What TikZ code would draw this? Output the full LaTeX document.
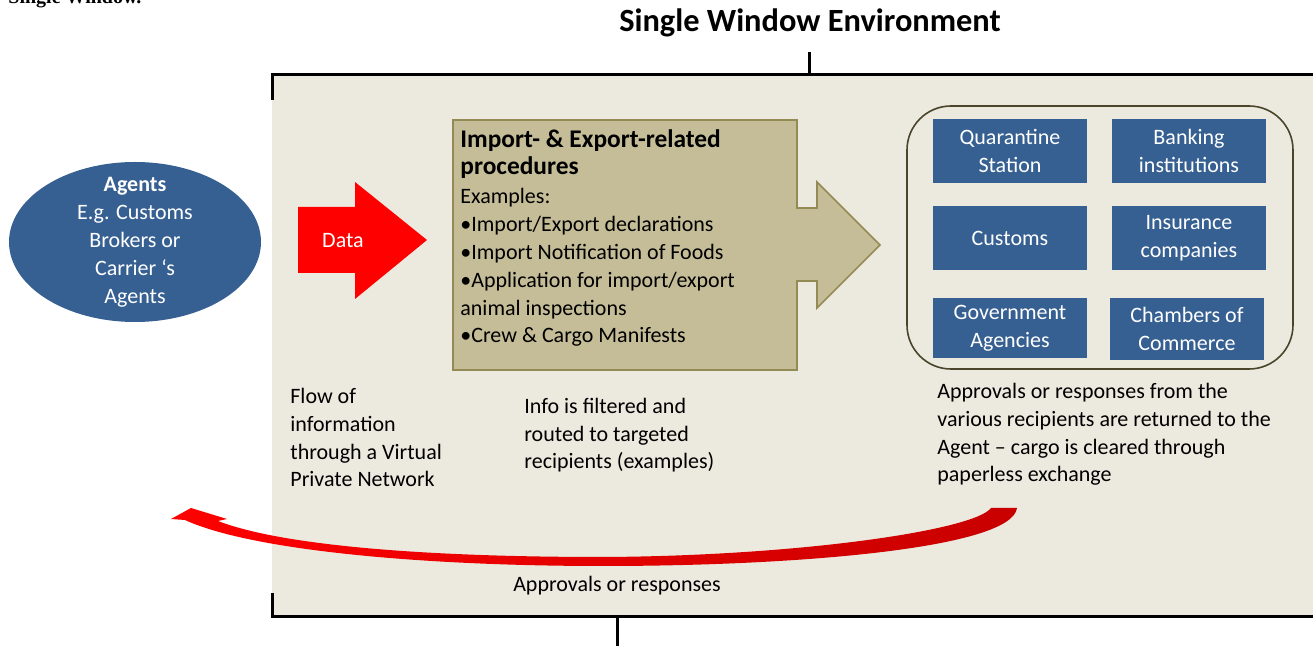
\documentclass[tikz,border=0pt]{standalone}
\usepackage{fontspec}
\setmainfont{Carlito}
\newfontfamily\timesfont{Liberation Serif}
\usepackage{xcolor}
\usetikzlibrary{shapes.geometric,positioning}

\definecolor{swbeige}{RGB}{236,233,223}
\definecolor{swkhaki}{RGB}{196,189,151}
\definecolor{swkhakiline}{RGB}{148,138,84}
\definecolor{swblue}{RGB}{55,96,146}
\definecolor{swframe}{RGB}{74,69,42}
\definecolor{swred}{RGB}{255,0,0}
\definecolor{swdarkred}{RGB}{200,0,0}

\tikzset{
  bluebox/.style={fill=swblue,text=white,align=center,inner sep=0pt,
    minimum width=77pt,minimum height=32pt,font=\fontsize{11}{14}\selectfont},
  notetext/.style={anchor=base west,align=left,inner sep=0pt,
    font=\fontsize{11}{13.9}\selectfont},
  bracket/.style={line width=1.5pt,black}
}

\begin{document}
\begin{tikzpicture}[x=0.5pt,y=-0.5pt]
\useasboundingbox (0,0) rectangle (1313,646);

% Define coordinates for easier positioning
\coordinate (TL) at (272,75);
\coordinate (BR) at (1320,617);

% Draw the page heading and the title
\node[anchor=base west,inner sep=0pt,font=\timesfont\bfseries\fontsize{10}{12}\selectfont] (page) at (8,4) {Single Window.};
\node[inner sep=0pt,font=\bfseries\fontsize{16.2}{19}\selectfont] (title) at (810,23) {Single Window Environment};

% Draw the environment background and the brackets
\fill[swbeige] (TL) rectangle (BR);
\draw[bracket] (272,100) -- (TL) -- (1320,75);
\draw[bracket] (809,52) -- (809,75);
\draw[bracket] (272,593) -- (272,617) -- (BR);
\draw[bracket] (617,617) -- (617,646);

% Draw the agents
\node[ellipse,fill=swblue,minimum width=126pt,minimum height=80pt,inner sep=0pt] (agents) at (135,242) {};
\node[text=white,align=center,inner sep=0pt,font=\fontsize{11}{14}\selectfont] (agentstext) at (agents.center)
  {\textbf{Agents}\\E.g. Customs\\Brokers or\\Carrier ‘s\\Agents};

% Draw the data arrow
\fill[swred] (298,207) -- (355,207) -- (355,182) -- (427,240) -- (355,299) -- (355,273) -- (298,273) -- cycle;
\node[text=white,inner sep=0pt,font=\fontsize{11}{14}\selectfont] (data) at (343,241) {Data};

% Draw the procedures box with its arrow
\filldraw[fill=swkhaki,draw=swkhakiline,line width=0.8pt] (453,120) -- (797,120) -- (797,208) -- (817,208) -- (817,182)
  -- (880,245) -- (817,308) -- (817,281) -- (797,281) -- (797,370) -- (453,370) -- cycle;
% (base of a block of lines is its last line)
\node[notetext,font=\bfseries\fontsize{12.7}{13.6}\selectfont] (proctitle) at (460,175) {Import- \& Export-related\\procedures};
\node[notetext] (procbody) at (460,343) {Examples:\\•Import/Export declarations\\•Import Notification  of Foods\\•Application for import/export\\animal inspections\\•Crew \& Cargo  Manifests};

% Draw the recipients
\draw[swframe,line width=0.8pt,rounded corners=22pt] (907,106) rectangle (1293,369);
\node[bluebox] (quarantine) at (1010,151) {Quarantine\\Station};
\node[bluebox] (banking) at (1189,151) {Banking\\institutions};
\node[bluebox] (customs) at (1010,238) {Customs};
\node[bluebox] (insurance) at (1189,238) {Insurance\\companies};
\node[bluebox,minimum height=30pt] (government) at (1010,328) {Government\\Agencies};
\node[bluebox,minimum height=31pt] (chambers) at (1187,329) {Chambers of\\Commerce};

% Add the notes
\node[notetext] (flow) at (290,487) {Flow of\\information\\through a Virtual\\Private Network};
\node[notetext] (filter) at (524,469) {Info is filtered and\\routed to targeted\\recipients (examples)};
\node[notetext] (returned) at (937,482) {Approvals or responses from the\\various recipients are returned to the\\Agent -- cargo is cleared through\\paperless exchange};

% Draw the return arrow
\shade[left color=swred,middle color=swred,right color=swdarkred] (1017,508) -- (991,508)
  .. controls (975,530) and (800,556) .. (603,557)
  .. controls (420,557) and (280,545) .. (218,521) -- (227,519) -- (191,508) -- (171,519) -- (185,520)
  .. controls (250,550) and (420,566) .. (603,566)
  .. controls (800,566) and (1012,548) .. (1017,508) -- cycle;
\node[inner sep=0pt,font=\fontsize{11}{14}\selectfont] (approvals) at (617,586) {Approvals or responses};

\end{tikzpicture}
\end{document}
